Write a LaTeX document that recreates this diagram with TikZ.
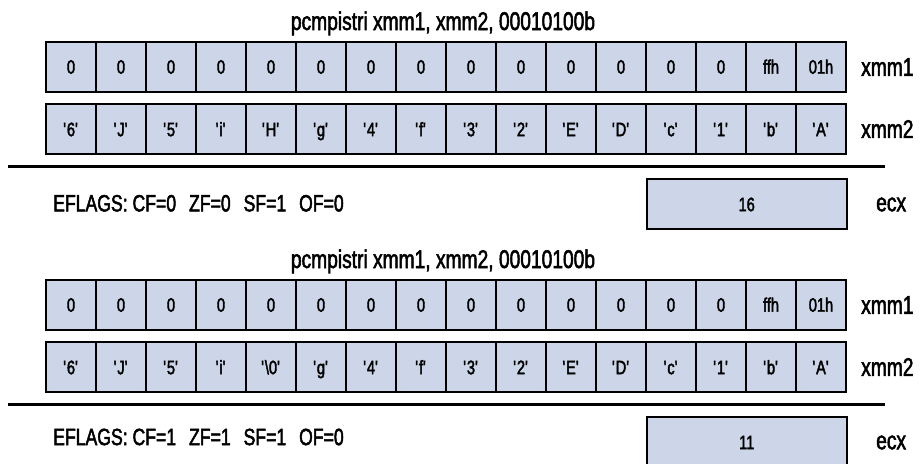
\documentclass[tikz,border=0pt]{standalone}
\usepackage{fontspec}
\setmainfont{Liberation Sans}
\newfontfamily\condf[FakeStretch=0.75,FakeBold=2]{Liberation Sans}
\newcommand\qq[1]{\textquotesingle#1\textquotesingle}
\newcommand\bigfnt{\condf\fontsize{25.6}{28}\selectfont}
\newcommand\cellfnt{\condf\fontsize{19.5}{22}\selectfont}
\newcommand\flagfnt{\condf\fontsize{23.5}{26}\selectfont}
\definecolor{cellblue}{HTML}{CCD6E8}
\tikzset{
  cell/.style={draw=black,line width=1.8pt,fill=cellblue,minimum width=50pt,minimum height=50pt,
    inner sep=0pt,font=\cellfnt,text height=14pt,text depth=0pt},
  wide/.style={cell,minimum width=200pt},
  title/.style={font=\bigfnt,inner sep=0pt,anchor=base},
  reglabel/.style={font=\bigfnt,inner sep=0pt,anchor=west},
  flags/.style={font=\flagfnt,inner sep=0pt,anchor=west},
  sepline/.style={line width=2.6pt}
}
\newcommand\drawhalf[6]{%
  \begin{scope}[yshift=-#2pt]
    \node[title] (#1t) at (443,30) {pcmpistri xmm1, xmm2, 00010100b};
    \foreach \v [count=\i] in {0,0,0,0,0,0,0,0,0,0,0,0,0,0,ffh,01h}
      \node[cell] (#1a\i) at ({21+50*\i},66.7) {\v};
    \foreach \v [count=\i] in {#3}
      \node[cell] (#1b\i) at ({21+50*\i},129.2) {\v};
    \node[reglabel] (#1xa) at (861,67) {xmm1};
    \node[reglabel] (#1xb) at (861,129) {xmm2};
    \coordinate (#1l) at (8,166.3);
    \coordinate (#1r) at (885,166.3);
    \draw[sepline] (#1l) -- (#1r);
    \node[flags] (#1f) at (53,#6) {#4};
    \node[wide] (#1e) at (746.7,204.2) {#5};
    \node[reglabel] (#1c) at (876,204.5) {ecx};
  \end{scope}}
\begin{document}
\begin{tikzpicture}[x=1pt,y=-1pt]
\useasboundingbox (0,0) rectangle (920,463);
\clip (0,0) rectangle (920,463);
\drawhalf{u}{0}{\qq{6},\qq{J},\qq{5},\qq{i},\qq{H},\qq{g},\qq{4},\qq{f},\qq{3},\qq{2},\qq{E},\qq{D},\qq{c},\qq{1},\qq{b},\qq{A}}{EFLAGS: CF=0\hspace{0.55em}ZF=0\hspace{0.55em}SF=1\hspace{0.55em}OF=0}{16}{203.3}
\drawhalf{w}{238}{\qq{6},\qq{J},\qq{5},\qq{i},\qq{\textbackslash 0},\qq{g},\qq{4},\qq{f},\qq{3},\qq{2},\qq{E},\qq{D},\qq{c},\qq{1},\qq{b},\qq{A}}{EFLAGS: CF=1\hspace{0.55em}ZF=1\hspace{0.55em}SF=1\hspace{0.55em}OF=0}{11}{199}
\end{tikzpicture}
\end{document}
